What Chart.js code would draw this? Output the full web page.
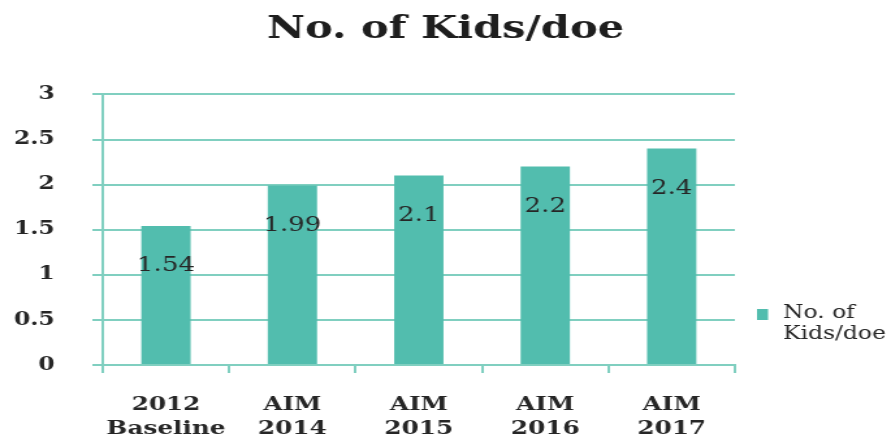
<!DOCTYPE html>
<html>
<head>
<meta charset="utf-8">
<script src="https://cdn.jsdelivr.net/npm/chart.js@4.4.1/dist/chart.umd.min.js"></script>
<style>
  html, body { margin: 0; padding: 0; background: #ffffff; overflow: hidden; }
  #page { width: 891px; height: 442px; position: relative; overflow: hidden; }
  /* the reference image is horizontally stretched; reproduce it by scaling the drawn chart */
  #wrap { width: 685px; height: 442px; transform: scale(1.3007, 1); transform-origin: 0 0; }
</style>
</head>
<body>
<div id="page"><div id="wrap"><canvas id="c" width="685" height="442" style="width:685px;height:442px"></canvas></div></div>
<script>
const titleText = "No. of Kids/doe";
const categories = [["2012", "Baseline"], ["AIM", "2014"], ["AIM", "2015"], ["AIM", "2016"], ["AIM", "2017"]];
const seriesLabel = "No. of Kids/doe";
const legendLines = ["No. of", "Kids/doe"];
const kidsPerDoe = [1.54, 1.99, 2.1, 2.2, 2.4];
const dataLabels = ["1.54", "1.99", "2.1", "2.2", "2.4"];
const yTicks = [0, 0.5, 1, 1.5, 2, 2.5, 3];

const BAR = "#52BDAE";
const GRID = "#80CFC0";
const TEXT = "#262626";
const SERIF = "'DejaVu Serif', 'Liberation Serif', serif";

const valueLabelPlugin = {
  id: "valueLabels",
  afterDatasetsDraw(chart) {
    const ctx = chart.ctx;
    const meta = chart.getDatasetMeta(0);
    ctx.save();
    ctx.font = "20px " + SERIF;
    ctx.fillStyle = TEXT;
    ctx.textAlign = "center";
    ctx.textBaseline = "middle";
    meta.data.forEach((bar, i) => {
      ctx.fillText(dataLabels[i], bar.x, bar.y + 40);
    });
    ctx.restore();
  }
};

const legendPlugin = {
  id: "sideLegend",
  afterDraw(chart) {
    const ctx = chart.ctx;
    const x0 = chart.chartArea.right + 17;
    ctx.save();
    ctx.fillStyle = BAR;
    ctx.fillRect(x0, 309, 8.5, 11);
    ctx.font = "18px " + SERIF;
    ctx.fillStyle = TEXT;
    ctx.textAlign = "left";
    ctx.textBaseline = "middle";
    ctx.fillText(legendLines[0], x0 + 20, 313);
    ctx.fillText(legendLines[1], x0 + 20, 334);
    ctx.restore();
  }
};

new Chart(document.getElementById("c"), {
  type: "bar",
  data: {
    labels: categories,
    datasets: [{
      label: seriesLabel,
      data: kidsPerDoe,
      backgroundColor: BAR,
      borderWidth: 0,
      categoryPercentage: 1,
      barPercentage: 0.39,
      yAxisID: "y"
    }]
  },
  options: {
    responsive: false,
    animation: false,
    devicePixelRatio: 1,
    layout: { padding: { left: 0, right: 0, top: 0, bottom: 0 } },
    plugins: {
      legend: { display: false },
      tooltip: { enabled: false },
      title: {
        display: true,
        text: titleText,
        color: "#1e1e1e",
        font: { family: SERIF, size: 32, weight: "bold" },
        padding: { top: 10, bottom: 46 }
      }
    },
    scales: {
      x: {
        afterFit(axis) { axis.height = 77; },
        grid: { display: true, drawOnChartArea: false, drawTicks: true, tickLength: 8, color: GRID, lineWidth: 2 },
        border: { display: true, color: GRID, width: 2 },
        ticks: { color: TEXT, font: { family: SERIF, size: 19, weight: "bold", lineHeight: 1.25 }, padding: 20, maxRotation: 0, autoSkip: false }
      },
      y: {
        min: 0, max: 3,
        afterBuildTicks(axis) { axis.ticks = yTicks.map(v => ({ value: v })); },
        afterFit(axis) { axis.width = 79; },
        grid: { color: GRID, lineWidth: 2, tickLength: 8 },
        border: { display: true, color: GRID, width: 2 },
        ticks: { color: TEXT, font: { family: SERIF, size: 18, weight: "bold" }, padding: 29,
          callback: v => String(v) }
      },
      legendSpace: {
        position: "right",
        display: true,
        afterFit(axis) { axis.width = 120; },
        grid: { display: false },
        border: { display: false },
        ticks: { display: false }
      }
    }
  },
  plugins: [valueLabelPlugin, legendPlugin]
});
</script>
</body>
</html>
